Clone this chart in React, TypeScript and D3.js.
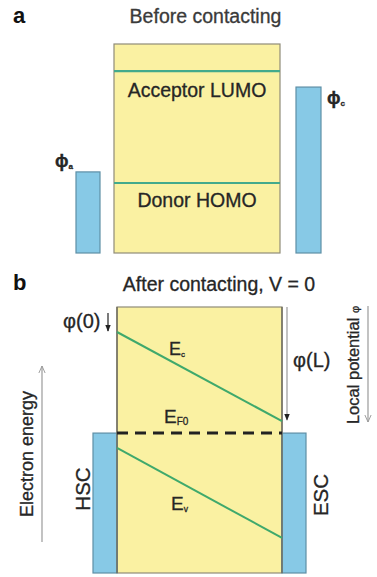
import React from 'react';
import * as d3 from 'd3';

// Panel a: energy levels before contacting (arbitrary energy units, 0 = bottom of box, 100 = top)
const levelNamesA = ['Acceptor LUMO', 'Donor HOMO'];
const levelEnergiesA = [87, 33.5];
const workFnSubs = ['a', 'c'];
const workFnEnergies = [38.8, 79.4];

// Panel b: bands after contacting, V = 0
const bandSubs = ['c', 'v'];
const bandAtZero = [90.6, 47.0];
const bandAtL = [57.1, 13.2];
const fermiLevel = 52.6;
const potentialNames = ['φ(0)', 'φ(L)'];
const potentialStart = [97.7, 100];
const contactNames = ['HSC', 'ESC'];

const W = 377;
const H = 577;
const FONT = '"Liberation Sans", Arial, sans-serif';

const style = {
  yellow: '#faf1a2',
  boxStroke: '#8f8c78',
  blue: '#87c9e6',
  blueStroke: '#5e8fa6',
  levelA: '#43aa8c',
  bandB: '#3fa96c',
  text: '#262626',
  grey: '#9a9a9a',
};

// a little stroke to mimic the heavier look of the scanned text
const heavy = { stroke: style.text, strokeWidth: 0.3 };

const Sub: React.FC<{ main: string; sub: string; x: number; y: number; size: number; bold?: boolean }> = ({ main, sub, x, y, size, bold }) => (
  <text x={x} y={y} fontSize={size} fill={style.text} fontFamily={FONT} fontWeight={bold ? 'bold' : 'normal'} {...heavy}>
    {main}
    <tspan fontSize={size * 0.45} dy={size * 0.12}>{sub}</tspan>
  </text>
);

const App: React.FC = () => {
  // panel a scales
  const yA = d3.scaleLinear().domain([0, 100]).range([253, 44]);
  const xA = d3.scaleLinear().domain([0, 1]).range([114, 280]);
  const electrodeA = [{ x0: 76, x1: 100 }, { x0: 296, x1: 321 }];

  // panel b scales
  const yB = d3.scaleLinear().domain([0, 100]).range([573, 307]);
  const xB = d3.scaleLinear().domain([0, 1]).range([117, 282]);
  const ew = 24;

  const bandLine = d3.line<[number, number]>()
    .x(d => xB(d[0]))
    .y(d => yB(d[1]));

  const labelAX = (xA(0) + xA(1)) / 2;

  return (
    <div style={{ position: 'absolute', left: 0, top: 0 }}>
      <svg width={W} height={H} style={{ display: 'block', background: '#fff' }}>
        <defs>
          <marker id="solidHead" viewBox="0 0 10 10" refX="9" refY="5" markerWidth="6" markerHeight="6" orient="auto">
            <path d="M0,1 L10,5 L0,9 z" fill="#222" />
          </marker>
          <marker id="openHead" viewBox="0 0 10 10" refX="9" refY="5" markerWidth="8" markerHeight="8" orient="auto" markerUnits="userSpaceOnUse">
            <path d="M0,1 L9,5 L0,9" fill="none" stroke={style.grey} strokeWidth={1.2} />
          </marker>
        </defs>

        {/* ---------- Panel a ---------- */}
        <text x={13} y={23} fontSize={22} fontWeight="bold" fontFamily={FONT} fill="#111">a</text>
        <text x={205.5} y={23} fontSize={19.5} textAnchor="middle" fontFamily={FONT} fill="#3a3a3a" {...heavy} stroke="#3a3a3a">Before contacting</text>

        <rect x={xA(0)} y={yA(100)} width={xA(1) - xA(0)} height={yA(0) - yA(100)}
          fill={style.yellow} stroke={style.boxStroke} strokeWidth={1.2} />

        {levelNamesA.map((name, i) => (
          <g key={name}>
            <line x1={xA(0)} x2={xA(1)} y1={yA(levelEnergiesA[i])} y2={yA(levelEnergiesA[i])}
              stroke={style.levelA} strokeWidth={2.2} />
            <text x={labelAX} y={yA(levelEnergiesA[i]) + (i === 0 ? 26 : 24)} fontSize={19.5}
              textAnchor="middle" fontFamily={FONT} fill={style.text} {...heavy}>{name}</text>
          </g>
        ))}

        {workFnSubs.map((s, i) => {
          const e = electrodeA[i];
          const top = yA(workFnEnergies[i]);
          const lx = i === 0 ? e.x0 - 21 : e.x1 + 6;
          return (
            <g key={s}>
              <rect x={e.x0} y={top} width={e.x1 - e.x0} height={yA(0) - top}
                fill={style.blue} stroke={style.blueStroke} strokeWidth={1.2} />
              <Sub main="ϕ" sub={s} x={lx} y={top - (i === 0 ? 5 : -17)} size={18} bold />
            </g>
          );
        })}

        {/* ---------- Panel b ---------- */}
        <text x={13} y={290} fontSize={22} fontWeight="bold" fontFamily={FONT} fill="#111">b</text>
        <text x={219} y={291} fontSize={19.5} textAnchor="middle" fontFamily={FONT} fill={style.text} {...heavy}>After contacting, V = 0</text>

        <rect x={xB(0)} y={yB(100)} width={xB(1) - xB(0)} height={yB(0) - yB(100)}
          fill={style.yellow} stroke={style.boxStroke} strokeWidth={1.2} />

        {/* contacts */}
        {contactNames.map((name, i) => {
          const x0 = i === 0 ? xB(0) - ew : xB(1);
          const tx = i === 0 ? x0 - 3 : x0 + ew + 22;
          const ty = i === 0 ? 489 : 495;
          return (
            <g key={name}>
              <rect x={x0} y={yB(fermiLevel)} width={ew} height={yB(0) - yB(fermiLevel)}
                fill={style.blue} stroke={style.blueStroke} strokeWidth={1.2} />
              <text transform={`translate(${tx},${ty}) rotate(-90)`} fontSize={20.5}
                textAnchor="middle" fontFamily={FONT} fill={style.text} {...heavy}>{name}</text>
            </g>
          );
        })}
        <line x1={xB(0)} x2={xB(0)} y1={yB(100)} y2={yB(0)} stroke="#6d6b5c" strokeWidth={1.4} />
        <line x1={xB(1)} x2={xB(1)} y1={yB(100)} y2={yB(0)} stroke="#6d6b5c" strokeWidth={1.4} />

        {/* bands */}
        {bandSubs.map((s, i) => (
          <path key={s} d={bandLine([[0, bandAtZero[i]], [1, bandAtL[i]]]) || ''}
            fill="none" stroke={style.bandB} strokeWidth={2} />
        ))}
        <Sub main="E" sub="c" x={169} y={355} size={18} />
        <Sub main="E" sub="v" x={171} y={510} size={19} />
        <text x={164} y={423} fontSize={19} fontFamily={FONT} fill={style.text} {...heavy}>
          E<tspan fontSize={10} dy={2}>F0</tspan>
        </text>

        {/* Fermi level */}
        <line x1={xB(0)} x2={xB(1)} y1={yB(fermiLevel)} y2={yB(fermiLevel)}
          stroke="#222" strokeWidth={3} strokeDasharray="11 7" />

        {/* local potentials */}
        {potentialNames.map((name, i) => {
          const ax = i === 0 ? xB(0) - 9 : xB(1) + 5;
          const end = i === 0 ? bandAtZero[0] : bandAtL[0];
          return (
            <g key={name}>
              <line x1={ax} x2={ax} y1={yB(potentialStart[i])} y2={yB(end) - 1}
                stroke={i === 0 ? '#222' : style.grey} strokeWidth={1.2} markerEnd="url(#solidHead)" />
              <text x={i === 0 ? 63 : 293} y={i === 0 ? 328 : 367} fontSize={20}
                fontFamily={FONT} fill={style.text} {...heavy}>{name}</text>
            </g>
          );
        })}

        {/* axis arrows */}
        <line x1={42} x2={42} y1={542} y2={366} stroke={style.grey} strokeWidth={1.2} markerEnd="url(#openHead)" />
        <text transform="translate(33,454) rotate(-90)" fontSize={18} textAnchor="middle"
          fontFamily={FONT} fill={style.text} {...heavy}>Electron energy</text>

        <line x1={368} x2={368} y1={306} y2={422} stroke={style.grey} strokeWidth={1.2} markerEnd="url(#openHead)" />
        <text transform="translate(359,365) rotate(-90)" fontSize={16.5} textAnchor="middle"
          fontFamily={FONT} fill={style.text} {...heavy}>Local potential <tspan fontSize={11}>φ</tspan></text>
      </svg>
    </div>
  );
};

export default App;
